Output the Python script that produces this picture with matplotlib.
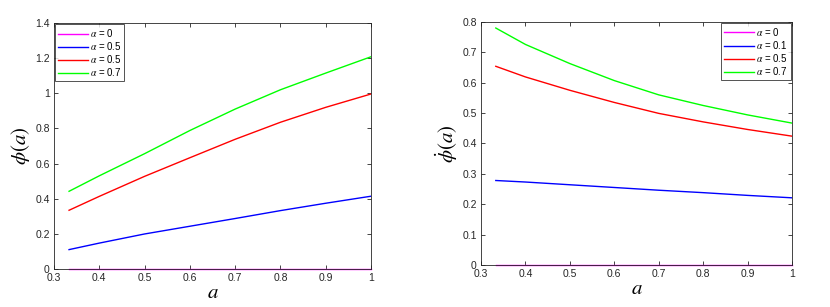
import matplotlib
matplotlib.use("Agg")
import matplotlib.pyplot as plt
import numpy as np

plt.rcParams['font.family'] = ['Liberation Sans', 'DejaVu Sans']
plt.rcParams['mathtext.fontset'] = 'stix'

x = [1/3, 0.4, 0.5, 0.6, 0.7, 0.8, 0.9, 1.0]

# Left panel: phi(a)
left_labels = [r'$\alpha$ = 0', r'$\alpha$ = 0.5', r'$\alpha$ = 0.5', r'$\alpha$ = 0.7']
left_a0 = [0, 0, 0, 0, 0, 0, 0, 0]
left_blue = [0.110, 0.147, 0.199, 0.243, 0.287, 0.332, 0.374, 0.414]
left_red = [0.334, 0.413, 0.527, 0.633, 0.738, 0.835, 0.920, 0.996]
left_green = [0.442, 0.530, 0.656, 0.788, 0.910, 1.020, 1.115, 1.208]

# Right panel: phi-dot(a)
right_labels = [r'$\alpha$ = 0', r'$\alpha$ = 0.1', r'$\alpha$ = 0.5', r'$\alpha$ = 0.7']
right_a0 = [0, 0, 0, 0, 0, 0, 0, 0]
right_blue = [0.278, 0.273, 0.264, 0.255, 0.246, 0.238, 0.229, 0.221]
right_red = [0.654, 0.619, 0.575, 0.535, 0.499, 0.471, 0.446, 0.424]
right_green = [0.780, 0.726, 0.663, 0.607, 0.560, 0.525, 0.494, 0.467]

colors = ['#ff00ff', '#0000ff', '#ff0000', '#00ff00']

fig = plt.figure(figsize=(8.3, 3.07), dpi=100)
ax1 = fig.add_axes([0.065, 0.124, 0.382, 0.801])
ax2 = fig.add_axes([0.5795, 0.137, 0.3747, 0.7915])

def style(ax):
    ax.tick_params(direction='in', top=True, right=True, labelsize=7.5,
                   length=3, width=0.6, colors='#262626', pad=3)
    for s in ax.spines.values():
        s.set_linewidth(0.6)
        s.set_color('#262626')

def legend(ax, loc):
    leg = ax.legend(loc=loc, fontsize=7, frameon=True, fancybox=False,
                    edgecolor='#262626', borderaxespad=0.1, handlelength=3.1,
                    labelspacing=0.12, borderpad=0.3, handletextpad=0.2)
    leg.get_frame().set_linewidth(0.7)
    return leg

for ys, c, lab in zip([left_a0, left_blue, left_red, left_green], colors, left_labels):
    ax1.plot(x, ys, color=c, lw=1.0, label=lab, clip_on=(ys is not left_a0))
ax1.set_xlim(0.3, 1)
ax1.set_ylim(0, 1.4)
ax1.set_xticks([0.3, 0.4, 0.5, 0.6, 0.7, 0.8, 0.9, 1])
ax1.set_xticklabels(['0.3', '0.4', '0.5', '0.6', '0.7', '0.8', '0.9', '1'])
ax1.set_yticks([0, 0.2, 0.4, 0.6, 0.8, 1, 1.2, 1.4])
ax1.set_yticklabels(['0', '0.2', '0.4', '0.6', '0.8', '1', '1.2', '1.4'])
ax1.set_xlabel(r'$a$', fontsize=15, labelpad=0)
ax1.set_ylabel(r'$\phi(a)$', fontsize=15, labelpad=2)
style(ax1)
legend(ax1, 'upper left')

for ys, c, lab in zip([right_a0, right_blue, right_red, right_green], colors, right_labels):
    ax2.plot(x, ys, color=c, lw=1.0, label=lab, clip_on=(ys is not right_a0))
ax2.set_xlim(0.3, 1)
ax2.set_ylim(0, 0.8)
ax2.set_xticks([0.3, 0.4, 0.5, 0.6, 0.7, 0.8, 0.9, 1])
ax2.set_xticklabels(['0.3', '0.4', '0.5', '0.6', '0.7', '0.8', '0.9', '1'])
ax2.set_yticks([0, 0.1, 0.2, 0.3, 0.4, 0.5, 0.6, 0.7, 0.8])
ax2.set_yticklabels(['0', '0.1', '0.2', '0.3', '0.4', '0.5', '0.6', '0.7', '0.8'])
ax2.set_xlabel(r'$a$', fontsize=15, labelpad=0)
ax2.set_ylabel(r'$\dot{\phi}(a)$', fontsize=15, labelpad=2)
style(ax2)
legend(ax2, 'upper right')

fig.savefig('out.png', dpi=100)
